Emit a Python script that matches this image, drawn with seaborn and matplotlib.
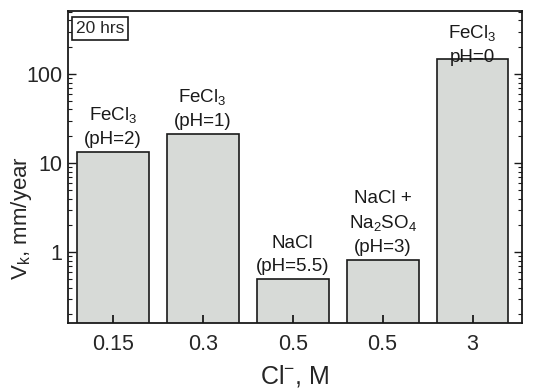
import matplotlib
matplotlib.use("Agg")
import matplotlib.pyplot as plt
import seaborn as sns
import pandas as pd
from matplotlib.ticker import LogLocator, NullFormatter, FixedLocator

# ---- data ----
solutions = ["FeCl3 pH2", "FeCl3 pH1", "NaCl pH5.5", "NaCl+Na2SO4 pH3", "FeCl3 pH0"]
cl_labels = ["0.15", "0.3", "0.5", "0.5", "3"]
rates = [13.3, 21.2, 0.50, 0.81, 147.0]
bar_texts = [
    "FeCl$_3$\n(pH=2)",
    "FeCl$_3$\n(pH=1)",
    "NaCl\n(pH=5.5)",
    "NaCl +\nNa$_2$SO$_4$\n(pH=3)",
    "FeCl$_3$\npH=0",
]

sns.set_theme(style="ticks")
plt.rcParams["font.family"] = ["Liberation Sans", "DejaVu Sans"]
plt.rcParams["mathtext.fontset"] = "custom"
plt.rcParams["mathtext.rm"] = "Liberation Sans"
plt.rcParams["mathtext.it"] = "Liberation Sans:italic"
plt.rcParams["mathtext.default"] = "regular"

df = pd.DataFrame({"solution": solutions, "rate": rates})

fig = plt.figure(figsize=(5.34, 3.92), dpi=100)
ax = fig.add_axes([0.127, 0.176, 0.9775 - 0.127, 0.972 - 0.176])
ax.set_yscale("log")
sns.barplot(data=df, x="solution", y="rate", order=solutions, color="#d7dad7",
            saturation=1, edgecolor="#1a1a1a", linewidth=1.2, width=0.8, ax=ax)
ax.set_axisbelow(False)

ax.set_ylim(0.16, 510)
ax.set_xlim(-0.5, 4.55)
ax.set_xticks(range(len(cl_labels)))
ax.set_xticklabels(cl_labels, fontsize=15.5)
ax.yaxis.set_major_locator(FixedLocator([1, 10, 100]))
ax.set_yticklabels(["1", "10", "100"], fontsize=15.5)
ax.yaxis.set_minor_locator(LogLocator(base=10, subs=range(2, 10)))
ax.yaxis.set_minor_formatter(NullFormatter())

ax.tick_params(axis="x", which="both", direction="in", length=6, width=1.3,
               color="#1a1a1a", top=False, pad=8)
ax.tick_params(axis="y", which="major", direction="in", length=6, width=1.0,
               color="#1a1a1a", right=True, pad=4)
ax.tick_params(axis="y", which="minor", direction="in", length=3, width=0.8,
               color="#1a1a1a", right=True)
for s in ax.spines.values():
    s.set_linewidth(1.3)
    s.set_color("#1a1a1a")

ax.set_xlabel("Cl$^{-}$, M", fontsize=18, labelpad=6)
ax.set_ylabel("V$_k$, mm/year", fontsize=16)
ax.yaxis.set_label_coords(-0.074, 0.335)

offsets = [3, 3, 3, 3, -5]
for i, (txt, v) in enumerate(zip(bar_texts, rates)):
    ax.annotate(txt, xy=(i, v), xytext=(0, offsets[i]), textcoords="offset points",
                ha="center", va="bottom", fontsize=13.5, linespacing=1.45, color="#1a1a1a")

ax.text(0.018, 0.967, "20 hrs", transform=ax.transAxes, ha="left", va="top", fontsize=12.5,
        bbox=dict(boxstyle="square,pad=0.22", facecolor="white", edgecolor="#1a1a1a", linewidth=1.2))

fig.savefig("out.png", dpi=100)
